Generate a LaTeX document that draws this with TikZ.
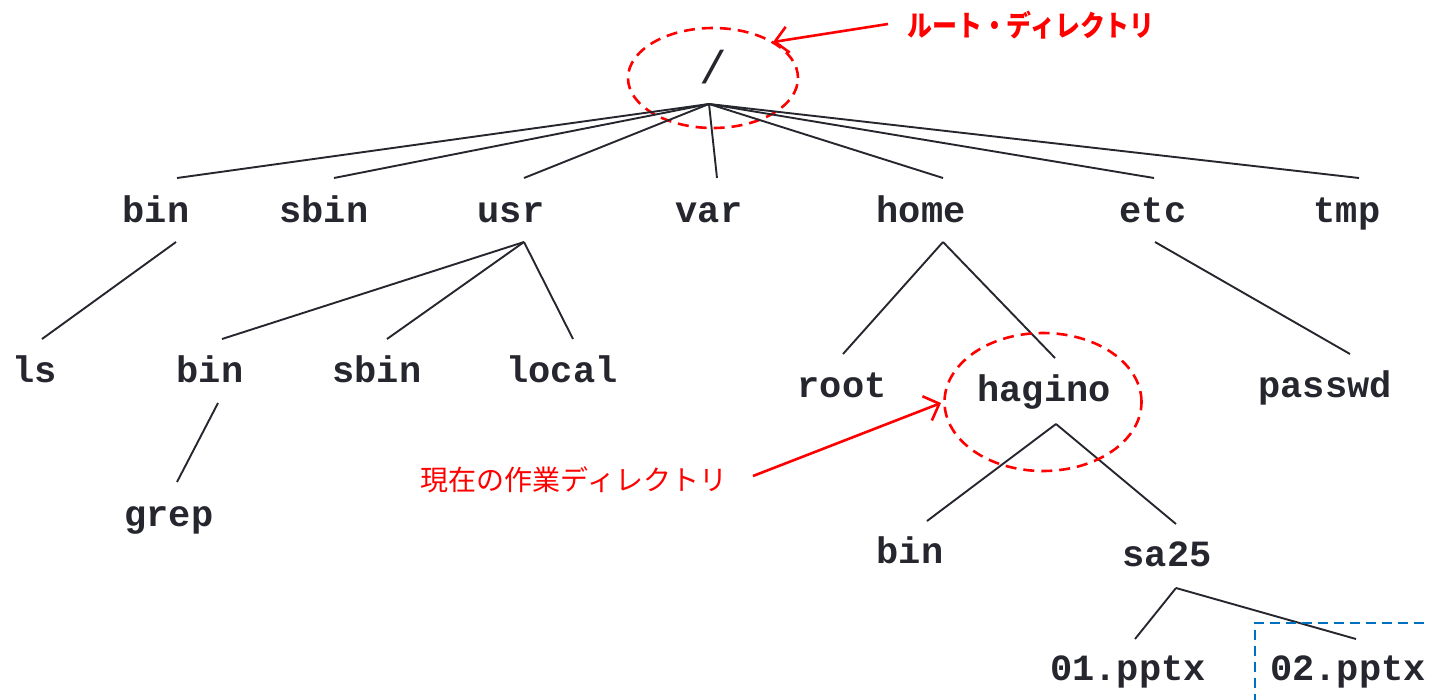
\documentclass[tikz,border=0pt]{standalone}
\usepackage{fontspec}
\usepackage{graphicx}
\setmonofont{Liberation Mono}
\newfontfamily\jpfont{Noto Sans CJK JP}
\usetikzlibrary{arrows.meta,shapes.geometric}
\definecolor{ink}{HTML}{26262E}
\definecolor{redc}{HTML}{FF0000}
\definecolor{bluec}{HTML}{0070C0}
\tikzset{
  lbl/.style={anchor=base, inner sep=0pt, text=ink, font=\ttfamily\bfseries\fontsize{37}{40}\selectfont},
  edge/.style={draw=ink, line width=1.9pt},
  redring/.style={draw=redc, line width=2.6pt, dash pattern=on 11pt off 7pt},
  redarrow/.style={draw=redc, line width=2.6pt, -{Straight Barb[length=13pt,width=26pt,line width=2.6pt]}},
  note/.style={text=redc, inner sep=0pt, anchor=center}
}
\begin{document}
\begin{tikzpicture}[x=1pt,y=-1pt]
\useasboundingbox (0,0) rectangle (1429,699);
% root
\node[inner sep=0pt, text=ink, font=\ttfamily\fontsize{46}{50}\selectfont] (rootdir) at (713,67) {/};
\node[redring, ellipse, minimum width=170pt, minimum height=100pt, inner sep=0pt] (rootring) at (713,78) {};
\coordinate (hub0) at (709,104);
% level 1
\node[lbl] (bin) at (156,222) {bin};
\node[lbl] (sbin) at (324,222) {sbin};
\node[lbl] (usr) at (511,222) {usr};
\node[lbl] (var) at (709,222) {var};
\node[lbl] (home) at (921,222) {home};
\node[lbl] (etc) at (1153,222) {etc};
\node[lbl] (tmp) at (1347,222) {tmp};
\coordinate (binT) at (177,178);
\coordinate (sbinT) at (334,178);
\coordinate (usrT) at (524,178);
\coordinate (varT) at (717,178);
\coordinate (homeT) at (943,178);
\coordinate (etcT) at (1154,178);
\coordinate (tmpT) at (1359,178);
\foreach \c in {binT,sbinT,usrT,varT,homeT,etcT,tmpT} \draw[edge] (hub0) -- (\c);
% level 2
\node[lbl] (ls) at (35,382) {ls};
\node[lbl] (ubin) at (210,382) {bin};
\node[lbl] (usbin) at (377,382) {sbin};
\node[lbl] (local) at (562,382) {local};
\node[lbl] (rootu) at (842,397) {root};
\node[lbl] (hagino) at (1044,401) {hagino};
\node[lbl] (passwd) at (1325,397) {passwd};
\coordinate (binB) at (176,242);
\coordinate (usrB) at (524,242);
\coordinate (homeB) at (943,242);
\coordinate (etcB) at (1155,242);
\coordinate (lsT) at (42,339);
\coordinate (ubinT) at (222,339);
\coordinate (usbinT) at (387,339);
\coordinate (localT) at (573,339);
\coordinate (rootuT) at (843,354);
\coordinate (haginoT) at (1055,358);
\coordinate (passwdT) at (1350,354);
\draw[edge] (binB) -- (lsT);
\draw[edge] (usrB) -- (ubinT);
\draw[edge] (usrB) -- (usbinT);
\draw[edge] (usrB) -- (localT);
\draw[edge] (homeB) -- (rootuT);
\draw[edge] (homeB) -- (haginoT);
\draw[edge] (etcB) -- (passwdT);
% level 3
\node[lbl] (grep) at (169,526) {grep};
\coordinate (ubinB) at (218,403);
\coordinate (grepT) at (177,482);
\draw[edge] (ubinB) -- (grepT);
\node[lbl] (hbin) at (910,563) {bin};
\node[lbl] (sa25) at (1167,566) {sa25};
\coordinate (haginoB) at (1056,424);
\coordinate (hbinT) at (927,521);
\coordinate (sa25T) at (1176,524);
\draw[edge] (haginoB) -- (hbinT);
\draw[edge] (haginoB) -- (sa25T);
% level 4
\node[lbl] (p01) at (1128,680) {01.pptx};
\node[lbl] (p02) at (1348,680) {02.pptx};
\coordinate (sa25B) at (1176,588);
\coordinate (p01T) at (1135,639);
\coordinate (p02T) at (1356,639);
\draw[edge] (sa25B) -- (p01T);
\draw[edge] (sa25B) -- (p02T);
% working dir ring
\node[redring, ellipse, minimum width=197pt, minimum height=138pt, inner sep=0pt] (wdring) at (1043,402) {};
% blue dashed box
\coordinate (boxA) at (1255,720);
\coordinate (boxB) at (1255,623);
\coordinate (boxC) at (1440,623);
\draw[draw=bluec, line width=2.2pt, dash pattern=on 10pt off 6pt] (boxA) -- (boxB) -- (boxC);
% annotations
\node[note, font=\jpfont\bfseries\fontsize{29}{32}\selectfont] (rootnote) at (1031,25) {\scalebox{0.86}[1]{ルート・ディレクトリ}};
\coordinate (rootnoteA) at (888,24);
\coordinate (rootringP) at (773,42);
\draw[redarrow] (rootnoteA) -- (rootringP);
\node[note, font=\jpfont\fontsize{28}{30}\selectfont] (wdnote) at (574,480) {現在の作業ディレクトリ};
\coordinate (wdnoteA) at (753,476);
\coordinate (wdringP) at (941,403);
\draw[redarrow] (wdnoteA) -- (wdringP);
\end{tikzpicture}
\end{document}
